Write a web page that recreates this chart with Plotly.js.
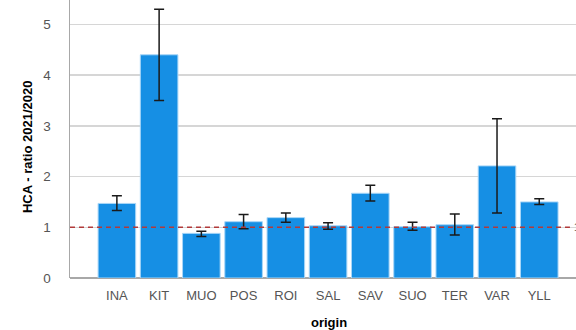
<!DOCTYPE html>
<html>
<head>
<meta charset="utf-8">
<script src="https://cdn.plot.ly/plotly-3.0.1.min.js"></script>
<style>html,body{margin:0;padding:0;background:#fff;}#chart{width:576px;height:330px;}</style>
</head>
<body>
<div id="chart"></div>
<script>
const categories = ["INA","KIT","MUO","POS","ROI","SAL","SAV","SUO","TER","VAR","YLL"];
const meanRatio  = [1.47, 4.40, 0.88, 1.11, 1.19, 1.03, 1.67, 1.01, 1.05, 2.21, 1.50];
const ciUpper    = [1.62, 5.30, 0.92, 1.25, 1.28, 1.09, 1.83, 1.10, 1.26, 3.14, 1.56];
const ciLower    = [1.33, 3.50, 0.82, 0.97, 1.10, 0.96, 1.52, 0.94, 0.85, 1.28, 1.45];
const referenceValue = 1;
const yTicks = [0, 1, 2, 3, 4, 5];

const idx = categories.map((c, i) => i);
const plus = meanRatio.map((m, i) => ciUpper[i] - m);
const minus = meanRatio.map((m, i) => m - ciLower[i]);

const trace = {
  type: "bar",
  x: idx,
  y: meanRatio,
  width: 0.89,
  marker: {color: "#168fe4", line: {color: "#a9d6f7", width: 1}},
  error_y: {type: "data", symmetric: false, array: plus, arrayminus: minus,
            color: "#1a1a1a", thickness: 1.5, width: 5},
  hoverinfo: "x+y"
};

const layout = {
  width: 576, height: 330,
  margin: {l: 70, r: 0, t: 0, b: 52},
  paper_bgcolor: "#fff", plot_bgcolor: "#fff",
  showlegend: false,
  font: {family: "Liberation Sans, Arial, sans-serif", color: "#555"},
  xaxis: {
    range: [-1.11, 10.87],
    tickmode: "array", tickvals: idx, ticktext: categories,
    tickfont: {size: 13, color: "#555"},
    showgrid: false, zeroline: false,
    showline: false, ticks: "", ticklabelstandoff: 8,
    fixedrange: true
  },
  yaxis: {
    range: [0, 5.48],
    tickmode: "array", tickvals: yTicks,
    tickfont: {size: 13.5, color: "#555"},
    showgrid: true, gridcolor: "#d6d6d6", gridwidth: 1.5,
    zeroline: true, zerolinecolor: "#a8a8a8", zerolinewidth: 2,
    showline: true, linecolor: "#a8a8a8", linewidth: 1.5,
    ticks: "", ticklabelstandoff: 15,
    fixedrange: true
  },
  shapes: [{
    type: "line", xref: "paper", yref: "y",
    x0: 0, x1: 0.988, y0: referenceValue, y1: referenceValue,
    line: {color: "#b23a3a", width: 1.5, dash: "5px,4px"}
  }],
  annotations: [
    {text: "origin", xref: "paper", yref: "paper", x: 0.512, y: 0, yshift: -44,
     xanchor: "center", yanchor: "middle", showarrow: false,
     font: {size: 13, color: "#000", weight: "bold"}},
    {text: "HCA - ratio 2021/2020", xref: "paper", yref: "paper", x: 0, y: 0.471, xshift: -43,
     xanchor: "center", yanchor: "middle", showarrow: false, textangle: -90,
     font: {size: 13, color: "#000", weight: "bold"}},
    {text: String(referenceValue), xref: "paper", yref: "y", x: 0.992, y: referenceValue,
     xanchor: "left", yanchor: "middle", showarrow: false,
     font: {size: 10, color: "#555"}}
  ]
};

Plotly.newPlot("chart", [trace], layout, {displayModeBar: false, staticPlot: true});
</script>
</body>
</html>
